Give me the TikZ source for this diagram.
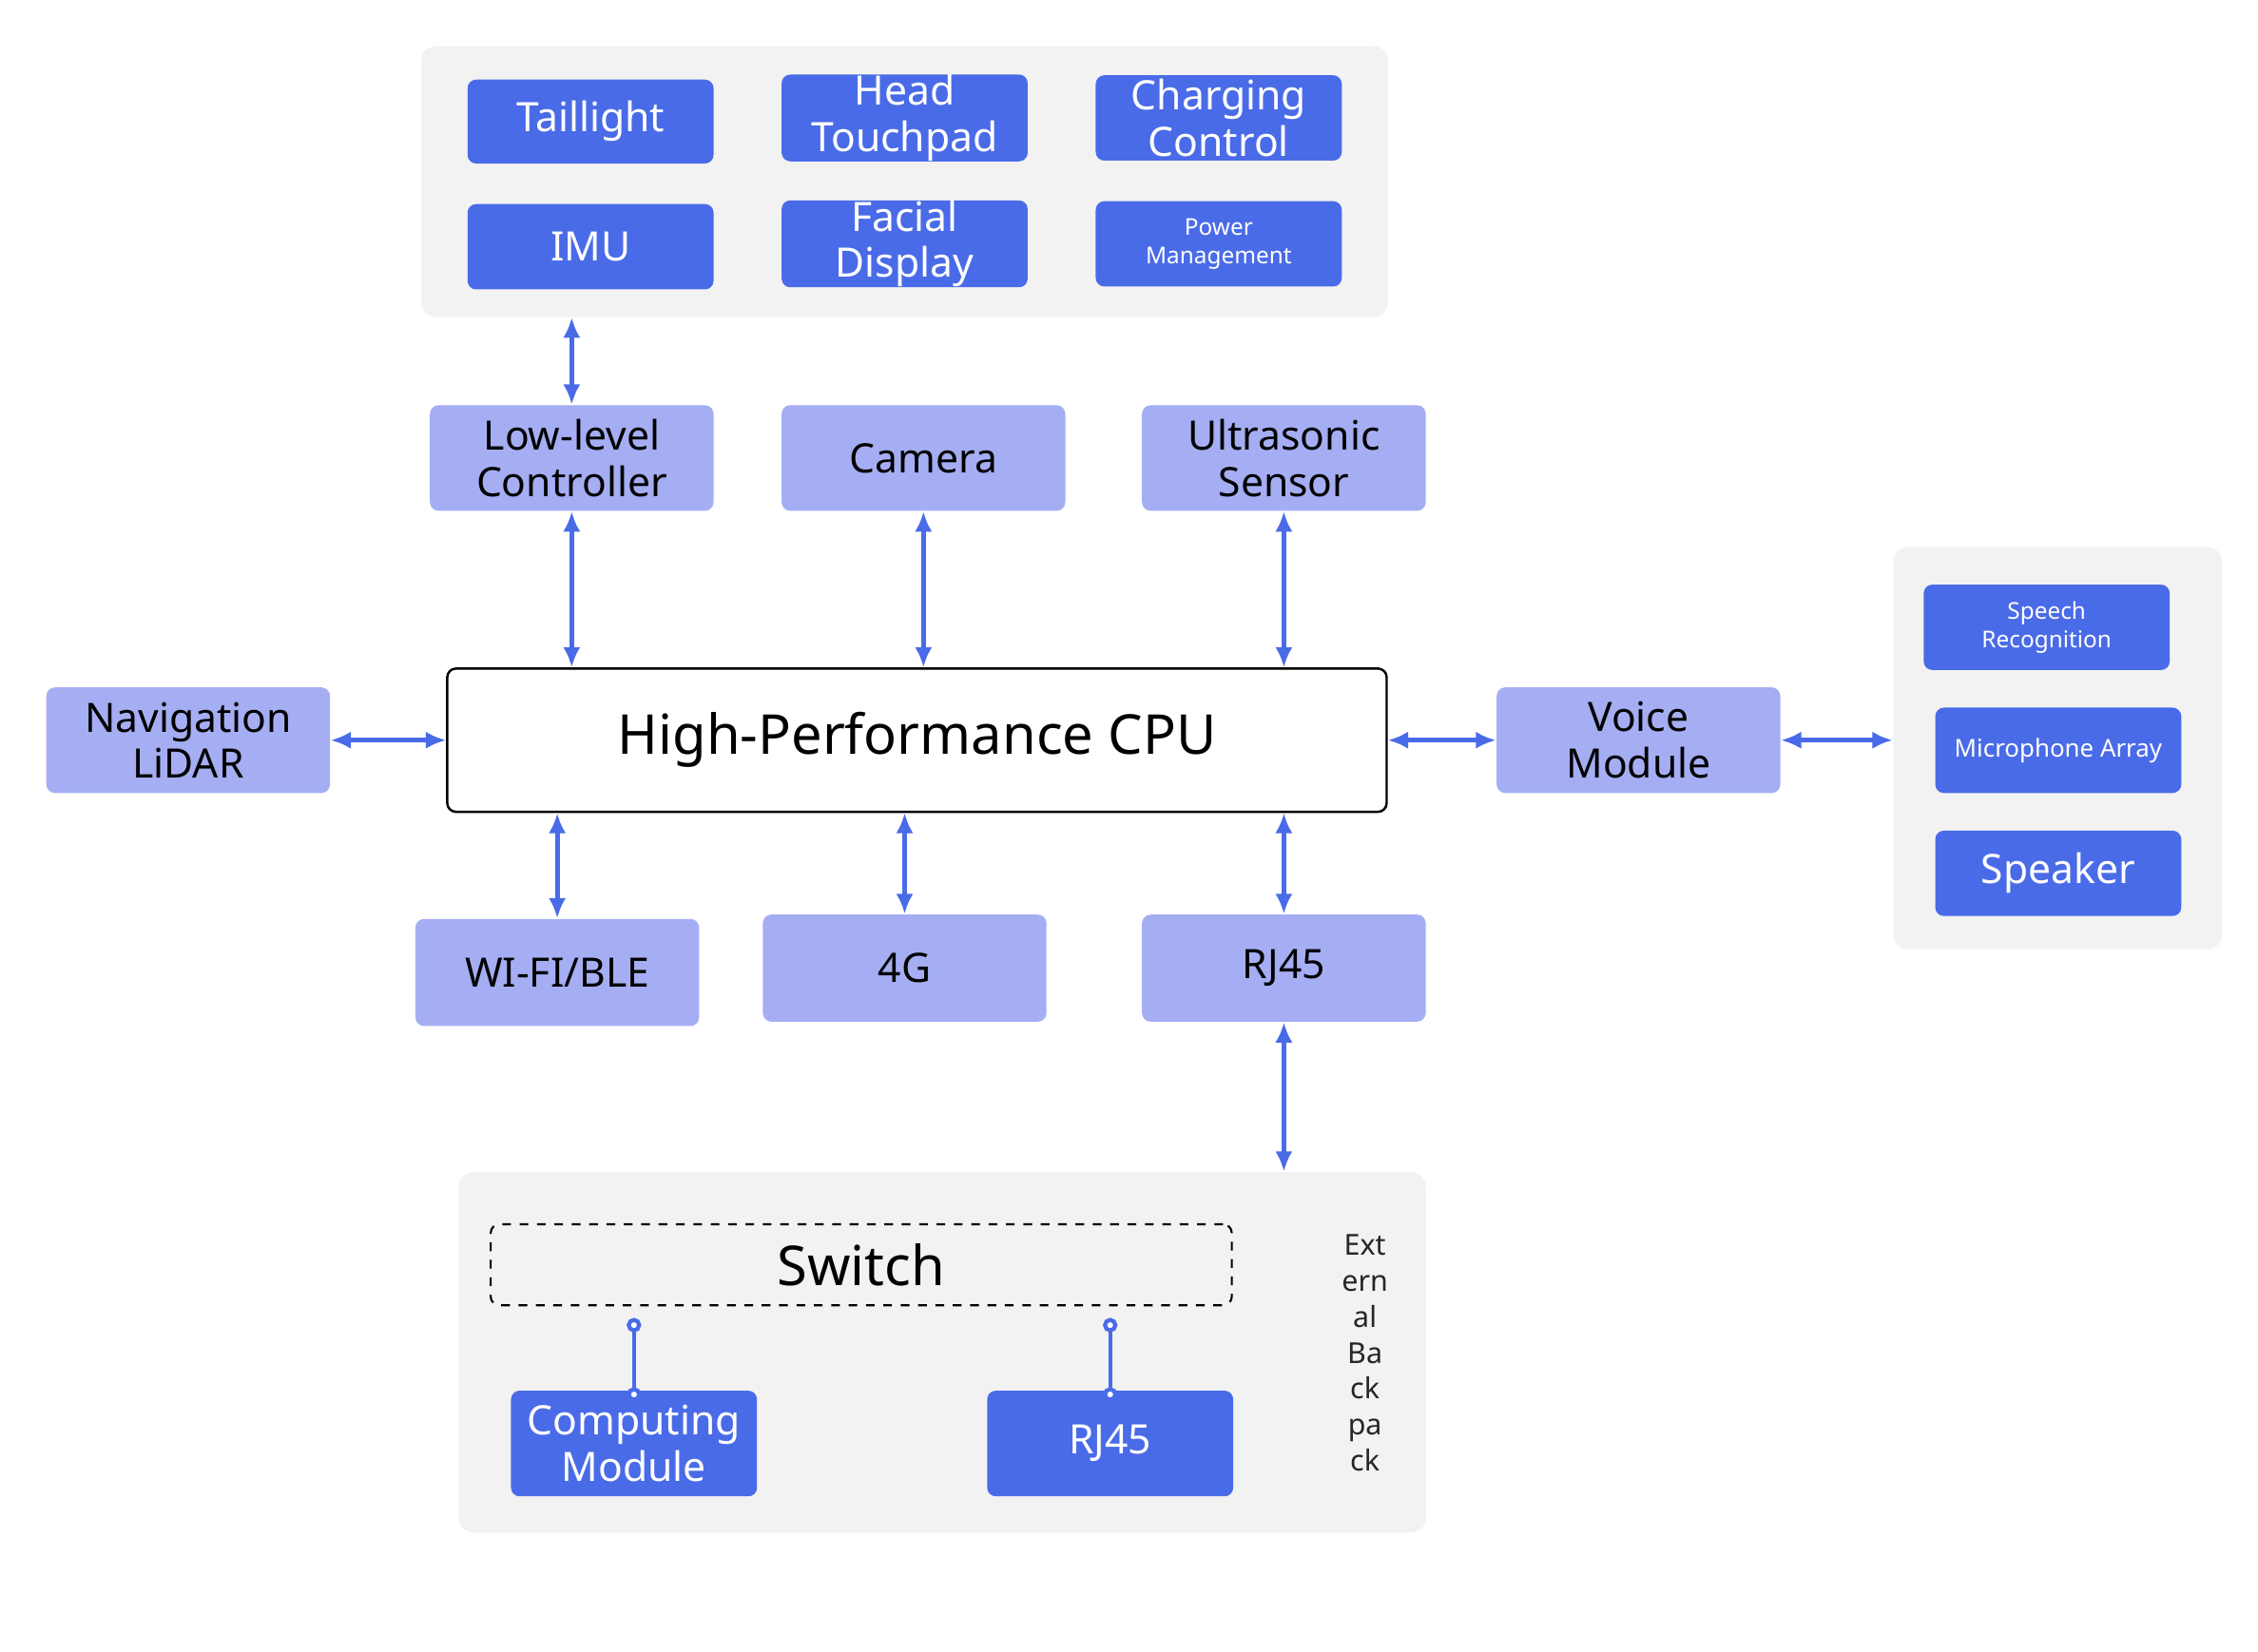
\documentclass[tikz,border=0pt]{standalone}
\usepackage{fontspec}
\setmainfont{Noto Sans}
\usetikzlibrary{arrows.meta}
\definecolor{dk}{HTML}{4A6BE8}
\definecolor{lt}{HTML}{A5AEF3}
\definecolor{pn}{HTML}{F2F2F2}
\tikzset{
 base/.style={rounded corners=3pt,align=center,inner sep=0pt},
 dkb/.style={base,fill=dk,text=white,font=\fontsize{14}{16}\selectfont},
 ltb/.style={base,fill=lt,text=black,font=\fontsize{14}{16}\selectfont},
 pan/.style={base,fill=pn,rounded corners=5pt},
 cpu/.style={base,fill=white,draw=black,line width=0.8pt,font=\fontsize{19}{22}\selectfont},
 sw/.style={base,draw=black,dashed,line width=0.7pt,font=\fontsize{19}{22}\selectfont},
 ar/.style={draw=dk,line width=1.6pt,{Latex[length=7pt,width=6pt]}-{Latex[length=7pt,width=6pt]}},
 ci/.style={draw=dk,line width=1.4pt,{Circle[open,length=5pt,fill=white]}-{Circle[open,length=5pt,fill=white]}}
}
\newcommand{\bx}[7]{\node[#6,minimum width={(#4-#2)*0.5pt},minimum height={(#5-#3)*0.5pt}] (#1) at ({(#2+#4)/2},{(#3+#5)/2}) {#7};}
\begin{document}
\begin{tikzpicture}[x=0.5pt,y=-0.5pt]
\useasboundingbox[fill=white] (0,0) rectangle (1560,1141);
\bx{top}{291}{32}{959}{219}{pan}{}
\bx{rp}{1308}{378}{1535}{656}{pan}{}
\bx{bp}{317}{810}{985}{1059}{pan}{}
\bx{tl}{323}{55}{493}{113}{dkb}{Taillight}
\bx{ht}{540}{52}{710}{111}{dkb}{Head\\Touchpad}
\bx{cc}{757}{52}{927}{111}{dkb}{Charging\\Control}
\bx{imu}{323}{141}{493}{200}{dkb}{IMU}
\bx{fd}{540}{139}{710}{198}{dkb}{Facial\\Display}
\bx{pm}{757}{139}{927}{198}{dkb,font=\fontsize{8}{10}\selectfont}{Power\\Management}
\bx{llc}{297}{280}{493}{353}{ltb}{Low-level\\Controller}
\bx{cam}{540}{280}{736}{353}{ltb}{Camera}
\bx{us}{789}{280}{985}{353}{ltb}{Ultrasonic\\Sensor}
\bx{cpu}{309}{462}{958}{561}{cpu}{High-Performance CPU}
\bx{nav}{32}{475}{228}{548}{ltb}{Navigation\\LiDAR}
\bx{vm}{1034}{475}{1230}{548}{ltb}{Voice\\Module}
\bx{sr}{1329}{404}{1499}{463}{dkb,font=\fontsize{8}{10}\selectfont}{Speech\\Recognition}
\bx{ma}{1337}{489}{1507}{548}{dkb,font=\fontsize{8.5}{10}\selectfont}{Microphone Array}
\bx{sp}{1337}{574}{1507}{633}{dkb}{Speaker}
\bx{wifi}{287}{635}{483}{709}{ltb}{WI-FI/BLE}
\bx{g4}{527}{632}{723}{706}{ltb}{4G}
\bx{rj}{789}{632}{985}{706}{ltb}{RJ45}
\bx{sw}{339}{846}{851}{902}{sw}{Switch}
\bx{cm}{353}{961}{523}{1034}{dkb}{Computing\\Module}
\bx{rj2}{682}{961}{852}{1034}{dkb}{RJ45}
\node[align=center,font=\fontsize{10}{12.4}\selectfont,text=black!85] (eb) at (943,935) {Ext\\ern\\al\\Ba\\ck\\pa\\ck};
\draw[ar] (llc.north) -- (top.south -| llc.north);
\draw[ar] (llc.south) -- (cpu.north -| llc.south);
\draw[ar] (cam.south) -- (cpu.north -| cam.south);
\draw[ar] (us.south) -- (cpu.north -| us.south);
\draw[ar] (nav.east) -- (cpu.west |- nav.east);
\draw[ar] (cpu.east |- vm.west) -- (vm.west);
\draw[ar] (vm.east) -- (rp.west |- vm.east);
\draw[ar] (wifi.north) -- (cpu.south -| wifi.north);
\draw[ar] (g4.north) -- (cpu.south -| g4.north);
\draw[ar] (rj.north) -- (cpu.south -| rj.north);
\draw[ar] (rj.south) -- (bp.north -| rj.south);
\draw[ci] ([yshift=-4pt]sw.south -| cm.north) -- ([yshift=-4pt]cm.north);
\draw[ci] ([yshift=-4pt]sw.south -| rj2.north) -- ([yshift=-4pt]rj2.north);
\end{tikzpicture}
\end{document}
